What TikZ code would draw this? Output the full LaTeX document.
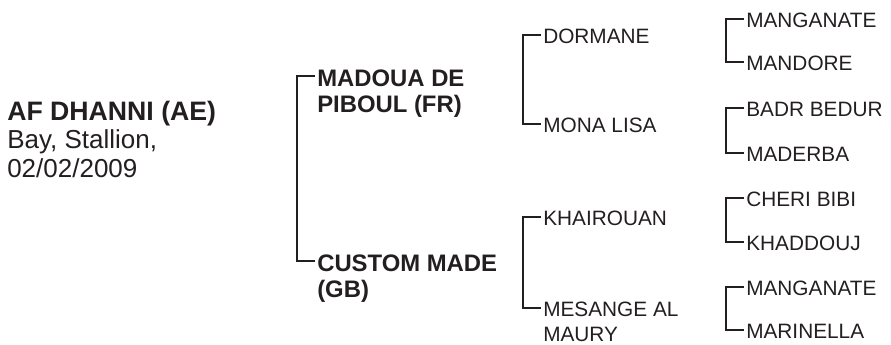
\documentclass[tikz,border=0pt]{standalone}
\usepackage{fontspec}
\setmainfont{Liberation Sans}
\usepackage{xcolor}
\usepackage{tikz}

\definecolor{ink}{RGB}{35,31,32}

% names on two lines, the node's baseline on the first one
\newcommand{\twolines}[2]{\vtop{\hbox{#1}\hbox{#2}}}

\tikzset{
  horse/.style={anchor=base west, inner sep=0pt, inner xsep=1.5pt, text=ink},
  sire/.style={horse, font=\fontsize{17.9pt}{19.5pt}\selectfont\bfseries},
  anc/.style={horse, font=\fontsize{15.6pt}{19.2pt}\selectfont},
  bracket/.style={draw=ink, line width=1.5pt},
}

\begin{document}
\begin{tikzpicture}[x=0.75pt, y=-0.75pt]
  \useasboundingbox (0,0) rectangle (891,344);

  % lengths of the ticks and their height above the baseline
  \def\tickLen{18}
  \def\bTick{7.5pt}
  \def\rTick{6pt}

  % the horse itself
  \node[horse, font=\fontsize{19.5pt}{21.2pt}\selectfont] (root) at (5,120.5)
    {\vtop{\hbox{\fontsize{20pt}{21.2pt}\selectfont\bfseries AF DHANNI (AE)}\hbox{Bay, Stallion,}\hbox{02/02/2009}}};

  % parents
  \node[sire] (sire) at (315,86) {\twolines{MADOUA DE}{PIBOUL (FR)}};
  \node[sire] (dam) at (315,271) {\twolines{CUSTOM MADE}{(GB)}};
  \draw[bracket] ([yshift=\bTick]sire.base west) -- ++(-\tickLen,0) |- ([yshift=\bTick]dam.base west);

  % grandparents
  \foreach \n/\ya/\yb/\ta/\tb in {1/43/132/DORMANE/MONA LISA, 2/225/316/KHAIROUAN/{\twolines{MESANGE AL}{MAURY}}} {
    \node[anc] (gsire\n) at (541,\ya) {\ta};
    \node[anc] (gdam\n) at (541,\yb) {\tb};
    \draw[bracket] ([yshift=\rTick]gsire\n.base west) -- ++(-\tickLen,0) |- ([yshift=\rTick]gdam\n.base west);
  }

  % great grandparents
  \foreach \n/\ya/\yb/\ta/\tb in {1/27/70/MANGANATE/MANDORE, 2/116/161/BADR BEDUR/MADERBA,
                                 3/206/250/CHERI BIBI/KHADDOUJ, 4/295/338/MANGANATE/MARINELLA} {
    \node[anc] (ggsire\n) at (744,\ya) {\ta};
    \node[anc] (ggdam\n) at (744,\yb) {\tb};
    \draw[bracket] ([yshift=\rTick]ggsire\n.base west) -- ++(-\tickLen,0) |- ([yshift=\rTick]ggdam\n.base west);
  }

\end{tikzpicture}
\end{document}
